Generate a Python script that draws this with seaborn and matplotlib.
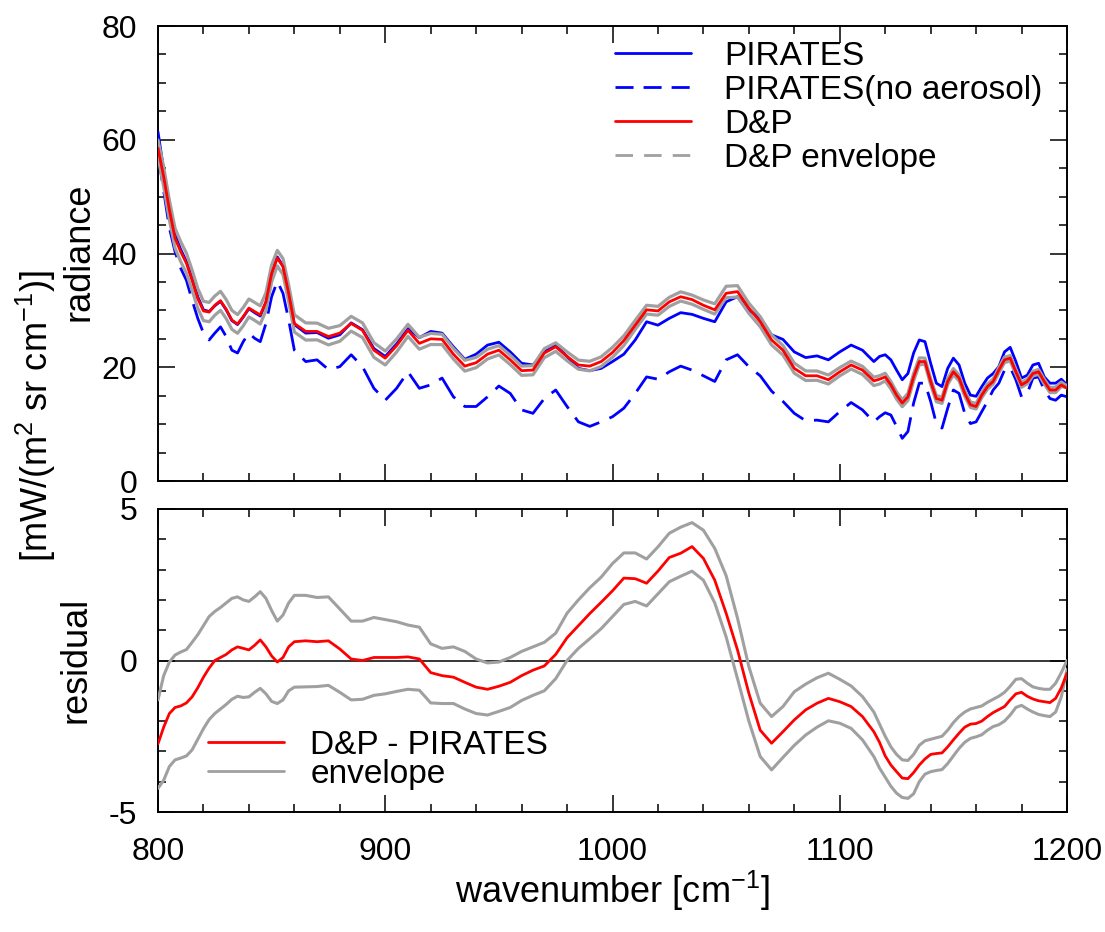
import numpy as np
import pandas as pd
import matplotlib
matplotlib.use("Agg")
import matplotlib.pyplot as plt
from matplotlib.lines import Line2D
from matplotlib.ticker import MultipleLocator
import seaborn as sns

# ---------------------------------------------------------------- data
# spectral grid [cm-1]: finer sampling where the spectrum varies quickly
wavenumber = np.concatenate([np.arange(800, 860.1, 2.5),
                             np.arange(865, 1115.1, 5.0),
                             np.arange(1117.5, 1200.1, 2.5)])

# radiance [mW/(m2 sr cm-1)]
pirates = [
    61.4, 54.7, 48.5, 43.3, 40.7, 38.6, 35.6, 32.4, 30.1, 29.8, 30.8, 31.6, 30.1,
    28.2, 27.5, 28.8, 30.3, 29.6, 29.0, 31.4, 36.5, 39.4, 37.8, 33.0, 27.5,
    26.0, 26.1, 25.1, 25.7, 27.8, 26.6, 23.3, 21.9, 24.1, 26.8,
    25.2, 26.3, 26.0, 23.6, 21.4, 22.3, 23.9, 24.4, 22.7, 20.7,
    20.4, 22.7, 23.9, 21.9, 19.8, 19.4, 19.8, 21.0, 22.3, 24.8,
    28.0, 27.4, 28.6, 29.6, 29.3, 28.6, 28.0, 31.5, 32.4, 30.1,
    28.6, 25.7, 24.9, 22.7, 21.7, 22.0, 21.3, 22.7, 23.9, 23.0, 21.0,
    21.9, 22.2, 21.3, 19.5, 17.8, 18.9, 22.5, 24.8, 24.5, 20.7,
    17.2, 16.6, 19.8, 21.6, 20.4, 17.2, 15.1, 14.9, 16.6, 18.1,
    18.9, 20.1, 22.7, 23.5, 21.0, 18.1, 18.6, 20.4, 20.7, 18.3,
    17.2, 17.2, 17.9, 16.9,
]
pirates_no_aerosol = [
    57.6, 51.0, 44.5, 40.3, 37.4, 35.3, 31.8, 28.6, 26.0, 24.8, 26.0, 27.1, 25.4,
    23.0, 22.5, 24.5, 26.0, 25.1, 24.5, 27.7, 32.4, 35.1, 33.0, 28.3, 23.0,
    21.0, 21.3, 19.6, 20.1, 22.2, 20.1, 16.3, 14.2, 16.3, 19.2,
    16.3, 16.9, 18.1, 14.8, 13.1, 13.1, 14.8, 16.7, 15.4, 12.5,
    11.9, 14.5, 16.0, 13.1, 10.4, 9.6, 10.4, 11.3, 12.8, 15.4,
    18.3, 17.9, 19.2, 20.2, 19.5, 18.5, 17.5, 21.3, 22.2, 20.1,
    18.5, 15.8, 14.0, 11.9, 10.6, 10.7, 10.4, 12.2, 13.8, 12.5, 10.4,
    11.3, 12.0, 11.6, 9.6, 7.5, 8.7, 13.7, 17.2, 17.2, 14.0,
    10.1, 9.3, 12.8, 16.0, 15.4, 11.9, 10.1, 10.4, 12.2, 14.0,
    16.0, 17.2, 19.5, 20.0, 17.8, 14.8, 15.4, 18.1, 18.3, 16.0,
    14.5, 14.2, 15.1, 14.8,
]
dp = [
    58.5, 53.5, 47.7, 42.7, 40.3, 38.3, 35.3, 32.1, 29.9, 29.7, 30.9, 31.7, 30.2,
    28.3, 27.6, 28.9, 30.4, 29.8, 29.2, 31.5, 36.5, 39.2, 37.7, 33.0, 27.7,
    26.3, 26.3, 25.4, 26.0, 27.7, 26.5, 23.0, 21.6, 23.8, 26.5,
    24.2, 25.0, 24.9, 22.3, 20.2, 20.8, 22.3, 23.0, 21.3, 19.4,
    19.5, 22.5, 23.6, 21.9, 20.4, 20.2, 21.0, 22.6, 24.7, 27.4,
    30.1, 29.9, 31.5, 32.4, 31.9, 30.9, 30.1, 33.0, 33.3, 30.4,
    28.0, 24.8, 23.0, 19.8, 18.5, 18.5, 17.8, 19.2, 20.4, 19.5, 17.6,
    17.9, 18.3, 16.9, 15.1, 13.7, 14.8, 18.3, 21.0, 21.0, 17.5,
    14.5, 14.2, 17.5, 19.2, 18.1, 15.4, 13.4, 13.1, 15.1, 16.6,
    17.5, 19.5, 21.3, 21.6, 19.2, 16.9, 17.5, 18.9, 19.2, 17.5,
    16.0, 16.0, 16.9, 16.3,
]

# residual D&P - PIRATES and its envelope
residual = [
    -2.75, -2.2, -1.75, -1.55, -1.5, -1.4, -1.2, -0.9, -0.55, -0.25, 0.0, 0.1, 0.2,
    0.35, 0.45, 0.4, 0.35, 0.5, 0.68, 0.45, 0.15, -0.05, 0.1, 0.45, 0.62,
    0.65, 0.62, 0.65, 0.38, 0.05, 0.0, 0.1, 0.1, 0.1, 0.12,
    0.05, -0.4, -0.5, -0.55, -0.72, -0.88, -0.95, -0.85, -0.72, -0.5,
    -0.32, -0.18, 0.2, 0.75, 1.15, 1.55, 1.92, 2.3, 2.72, 2.7,
    2.55, 2.95, 3.4, 3.54, 3.76, 3.37, 2.65, 1.56, 0.35, -1.08,
    -2.3, -2.73, -2.35, -1.96, -1.63, -1.41, -1.25, -1.36, -1.52, -1.85, -2.35,
    -2.7, -3.15, -3.45, -3.67, -3.88, -3.9, -3.7, -3.45, -3.25, -3.1,
    -3.07, -3.05, -2.85, -2.62, -2.4, -2.2, -2.1, -2.08, -2.0, -1.85,
    -1.72, -1.62, -1.52, -1.3, -1.1, -1.05, -1.18, -1.27, -1.33, -1.36,
    -1.39, -1.25, -0.9, -0.42,
]
residual_upper = [
    -1.3, -0.5, -0.05, 0.18, 0.28, 0.36, 0.6, 0.85, 1.15, 1.45, 1.62, 1.75, 1.9,
    2.05, 2.1, 2.0, 1.95, 2.1, 2.27, 2.05, 1.65, 1.3, 1.5, 1.9, 2.15,
    2.15, 2.08, 2.1, 1.7, 1.3, 1.3, 1.42, 1.35, 1.28, 1.17,
    1.1, 0.55, 0.4, 0.45, 0.3, 0.05, -0.08, -0.05, 0.1, 0.3,
    0.45, 0.6, 0.9, 1.56, 2.0, 2.4, 2.75, 3.2, 3.55, 3.55,
    3.35, 3.75, 4.2, 4.4, 4.55, 4.3, 3.7, 2.8, 1.4, -0.2,
    -1.41, -1.85, -1.52, -1.03, -0.78, -0.57, -0.42, -0.62, -0.84, -1.19, -1.7,
    -2.1, -2.5, -2.85, -3.1, -3.28, -3.3, -3.1, -2.8, -2.65, -2.6,
    -2.55, -2.5, -2.3, -2.05, -1.85, -1.7, -1.6, -1.55, -1.5, -1.38,
    -1.28, -1.18, -1.05, -0.85, -0.62, -0.6, -0.75, -0.87, -0.92, -0.95,
    -0.95, -0.75, -0.4, 0.0,
]
residual_lower = [
    -4.22, -3.95, -3.5, -3.28, -3.22, -3.15, -2.95, -2.6, -2.25, -1.95, -1.75, -1.6, -1.45,
    -1.28, -1.18, -1.22, -1.2, -1.05, -0.92, -1.1, -1.35, -1.42, -1.3, -1.0, -0.88,
    -0.87, -0.86, -0.82, -1.05, -1.3, -1.28, -1.15, -1.1, -1.02, -0.95,
    -0.98, -1.4, -1.42, -1.42, -1.6, -1.75, -1.8, -1.68, -1.55, -1.32,
    -1.15, -1.0, -0.6, 0.0, 0.4, 0.72, 1.05, 1.45, 1.85, 1.95,
    1.8, 2.2, 2.6, 2.78, 2.95, 2.65, 1.9, 0.78, -0.6, -2.0,
    -3.17, -3.61, -3.2, -2.8, -2.46, -2.2, -1.99, -2.07, -2.24, -2.62, -3.17,
    -3.55, -3.85, -4.15, -4.38, -4.52, -4.55, -4.4, -4.0, -3.75, -3.67,
    -3.63, -3.6, -3.4, -3.15, -2.9, -2.7, -2.57, -2.52, -2.45, -2.3,
    -2.18, -2.12, -2.0, -1.8, -1.55, -1.48, -1.6, -1.7, -1.78, -1.82,
    -1.85, -1.7, -1.2, -0.3,
]

df = pd.DataFrame({
    "wavenumber": wavenumber,
    "pirates": pirates,
    "pirates_no_aerosol": pirates_no_aerosol,
    "dp": dp,
    "residual": residual,
    "residual_upper": residual_upper,
    "residual_lower": residual_lower,
})
# D&P envelope: same spread about D&P as the residual envelope about the residual
df["dp_upper"] = df["dp"] + (df["residual_upper"] - df["residual"])
df["dp_lower"] = df["dp"] - (df["residual"] - df["residual_lower"])

# ---------------------------------------------------------------- style
sns.set_theme(style="ticks")
plt.rcParams["font.family"] = ["Liberation Sans", "DejaVu Sans"]
plt.rcParams["mathtext.fontset"] = "custom"
plt.rcParams["mathtext.rm"] = "Liberation Sans"
plt.rcParams["mathtext.it"] = "Liberation Sans:italic"
plt.rcParams["axes.linewidth"] = 1.4
plt.rcParams["axes.unicode_minus"] = False
for key in ("text.color", "axes.labelcolor", "xtick.color", "ytick.color",
            "axes.edgecolor"):
    plt.rcParams[key] = "black"

BLUE = "#0000ff"
RED = "#ff0000"
GRAY = "#a0a0a0"
DASH = (0, (10, 4))
LW = 2.0
W, H = 1105, 932
line_kw = dict(solid_joinstyle="round", solid_capstyle="round")

fig = plt.figure(figsize=(W / 100, H / 100), dpi=100)
ax1 = fig.add_axes([158 / W, 1 - 481 / H, 909 / W, 455 / H])
ax2 = fig.add_axes([158 / W, 1 - 812 / H, 909 / W, 303 / H])

# ---------------------------------------------------------------- radiance
sns.lineplot(data=df, x="wavenumber", y="pirates_no_aerosol", ax=ax1, color=BLUE,
             lw=LW, linestyle=DASH, zorder=2)
sns.lineplot(data=df, x="wavenumber", y="pirates", ax=ax1, color=BLUE, lw=LW,
             zorder=3, **line_kw)
sns.lineplot(data=df, x="wavenumber", y="dp_upper", ax=ax1, color=GRAY, lw=2.3,
             zorder=4, **line_kw)
sns.lineplot(data=df, x="wavenumber", y="dp_lower", ax=ax1, color=GRAY, lw=2.3,
             zorder=4, **line_kw)
sns.lineplot(data=df, x="wavenumber", y="dp", ax=ax1, color=RED, lw=LW, zorder=5, **line_kw)

ax1.set_xlim(800, 1200)
ax1.set_ylim(0, 80)
ax1.yaxis.set_major_locator(MultipleLocator(20))
ax1.yaxis.set_minor_locator(MultipleLocator(5))
ax1.set_xlabel("")
ax1.set_ylabel("")
ax1.tick_params(axis="x", labelbottom=False)

top_handles = [
    Line2D([], [], color=BLUE, lw=LW),
    Line2D([], [], color=BLUE, lw=LW, linestyle=(0, (6.5, 3.6))),
    Line2D([], [], color=RED, lw=LW),
    Line2D([], [], color=GRAY, lw=LW, linestyle=(0, (6.3, 4.0))),
]
ax1.legend(top_handles, ["PIRATES", "PIRATES(no aerosol)", "D&P", "D&P envelope"],
           loc="upper left", bbox_to_anchor=(615 / W, 1 - 41 / H),
           bbox_transform=fig.transFigure, frameon=False, fontsize=24,
           handlelength=2.27, handletextpad=1.0, labelspacing=0.09,
           borderpad=0, borderaxespad=0)

# ---------------------------------------------------------------- residual
ax2.axhline(0, color="black", lw=1.1, zorder=1)
sns.lineplot(data=df, x="wavenumber", y="residual_upper", ax=ax2, color=GRAY, lw=2.2,
             zorder=3, **line_kw)
sns.lineplot(data=df, x="wavenumber", y="residual_lower", ax=ax2, color=GRAY, lw=2.2,
             zorder=3, **line_kw)
sns.lineplot(data=df, x="wavenumber", y="residual", ax=ax2, color=RED, lw=LW,
             zorder=4, **line_kw)

ax2.set_xlim(800, 1200)
ax2.set_ylim(-5, 5)
ax2.yaxis.set_major_locator(MultipleLocator(5))
ax2.yaxis.set_minor_locator(MultipleLocator(1))
ax2.set_ylabel("")
ax2.set_xlabel("")

bottom_handles = [Line2D([], [], color=RED, lw=LW), Line2D([], [], color=GRAY, lw=LW)]
ax2.legend(bottom_handles, ["D&P - PIRATES", "envelope"],
           loc="upper left", bbox_to_anchor=(208 / W, 1 - 730 / H),
           bbox_transform=fig.transFigure, frameon=False, fontsize=24,
           handlelength=2.27, handletextpad=0.8, labelspacing=-0.07,
           borderpad=0, borderaxespad=0)

for ax in (ax1, ax2):
    ax.xaxis.set_major_locator(MultipleLocator(100))
    ax.xaxis.set_minor_locator(MultipleLocator(20))
    ax.tick_params(which="both", direction="in", top=True, right=True,
                   width=1.1, colors="black", labelsize=23)
    ax.tick_params(which="major", length=12)
    ax.tick_params(which="minor", length=6)
    ax.tick_params(axis="y", pad=15)
    ax.tick_params(axis="x", pad=18)
    for s in ax.spines.values():
        s.set_color("black")

# ---------------------------------------------------------------- labels
fig.text(79 / W, 1 - 252 / H, "radiance", rotation=90, ha="center", va="center", fontsize=26)
fig.text(36 / W, 1 - 416 / H, r"[mW/(m$^\mathrm{2}$ sr cm$^\mathrm{-1}$)]",
         rotation=90, ha="center", va="center", fontsize=26)
fig.text(76 / W, 1 - 660 / H, "residual", rotation=90, ha="center", va="center", fontsize=26)
fig.text(612 / W, 1 - 891 / H, r"wavenumber [cm$^\mathrm{-1}$]", ha="center", va="center",
         fontsize=26)

fig.savefig("out.png", dpi=100)
